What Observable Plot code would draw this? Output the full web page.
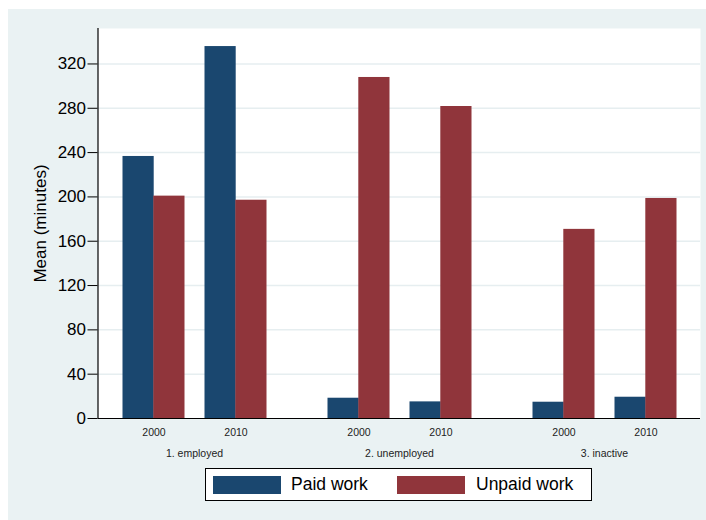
<!DOCTYPE html>
<html>
<head>
<meta charset="utf-8">
<script src="https://cdn.jsdelivr.net/npm/d3@7"></script>
<script src="https://cdn.jsdelivr.net/npm/@observablehq/plot@0.6"></script>
<style>
  html, body { margin: 0; padding: 0; background: white; overflow: hidden; width: 706px; height: 520px; }
  #bg { position: absolute; left: 8px; top: 9px; width: 698px; height: 511px; background: #EAF2F3; }
  .layer { position: absolute; left: 0; top: 0; }
  #legend { position: absolute; left: 205px; top: 468px; width: 385px; height: 31px; background: white; border: 1px solid #000;
    font-family: "Liberation Sans", Arial, sans-serif; font-size: 17.5px; color: #000; }
  #legend .sw { position: absolute; top: 7px; width: 68px; height: 18px; }
  #legend .lb { position: absolute; top: 5px; line-height: 20px; white-space: nowrap; }
</style>
</head>
<body>
<div id="bg"></div>
<div id="chart"></div>
<div id="legend"></div>
<script>
// ---- data ----
const statuses = ["1. employed", "2. unemployed", "3. inactive"];
const years = ["2000", "2010"];
const series = ["Paid work", "Unpaid work"];
// values ordered status x year
const paidWork   = [236.5, 335.7, 18.3, 15.0, 14.7, 19.2];
const unpaidWork = [200.7, 197.0, 307.8, 281.6, 170.7, 198.6];
const yTicks = [0, 40, 80, 120, 160, 200, 240, 280, 320];
const yLabel = "Mean (minutes)";

const colors = ["#1A476F", "#90353B"];

const rows = [];
statuses.forEach((s, i) => years.forEach((y, j) => {
  const k = i * years.length + j;
  rows.push({status: s, year: y, paid: paidWork[k], unpaid: unpaidWork[k]});
}));

// ---- layout ----
const W = 706, H = 465;
const margins = {marginLeft: 97.5, marginRight: 6, marginTop: 28, marginBottom: 47};
const yScale = {domain: [0, 352], axis: null};
const font = "Liberation Sans, Arial, sans-serif";
const half = 30.8;

const chart = document.getElementById("chart");
function addLayer(svg) { svg.classList.add("layer"); chart.appendChild(svg); }

// Layer A: plot region + gridlines
addLayer(Plot.plot({
  width: W, height: H, ...margins,
  style: {background: "transparent", fontFamily: font},
  y: yScale,
  marks: [
    Plot.frame({fill: "white", stroke: "none"}),
    Plot.gridY(yTicks.filter(d => d > 0), {stroke: "#E6EEF0", strokeOpacity: 1, strokeWidth: 1.5})
  ]
}));

// Layer B: bars + category labels
addLayer(Plot.plot({
  width: W, height: H, ...margins,
  style: {background: "transparent", fontFamily: font},
  y: yScale,
  x: {domain: years, paddingInner: 0.25, paddingOuter: 0, axis: null},
  fx: {domain: statuses, paddingInner: 0.3, paddingOuter: 0.118, axis: null},
  marks: [
    Plot.barY(rows, {fx: "status", x: "year", y: "paid", fill: colors[0], insetRight: half}),
    Plot.barY(rows, {fx: "status", x: "year", y: "unpaid", fill: colors[1], insetLeft: half}),
    Plot.axisX({anchor: "bottom", tickSize: 0, tickPadding: 10.5, fontSize: 10.5, fill: "#222", label: null}),
    Plot.axisFx({anchor: "bottom", tickSize: 0, tickPadding: 31, fontSize: 10.5, fill: "#222", label: null})
  ]
}));

// Layer C: y axis, axis lines, title
addLayer(Plot.plot({
  width: W, height: H, ...margins,
  style: {background: "transparent", fontFamily: font},
  y: yScale,
  x: {domain: [0, 1], axis: null},
  marks: [
    Plot.axisY({ticks: yTicks, tickSize: 10, tickPadding: 2, fontSize: 17, fill: "#000", stroke: "#000", label: null}),
    Plot.ruleY([0], {stroke: "#000", strokeWidth: 1.2}),
    Plot.ruleX([0], {y1: 0, y2: 352, stroke: "#000", strokeWidth: 1.2}),
    Plot.text([yLabel], {frameAnchor: "left", textAnchor: "middle", lineAnchor: "middle", rotate: -90, dx: -57.5, fontSize: 17, fill: "#000"})
  ]
}));

// Legend
const legend = document.getElementById("legend");
const swX = [7, 191], lbX = [85, 270];
series.forEach((s, i) => {
  const sw = document.createElement("div");
  sw.className = "sw"; sw.style.left = swX[i] + "px"; sw.style.background = colors[i];
  legend.appendChild(sw);
  const lb = document.createElement("div");
  lb.className = "lb"; lb.style.left = lbX[i] + "px"; lb.textContent = s;
  legend.appendChild(lb);
});
</script>
</body>
</html>
